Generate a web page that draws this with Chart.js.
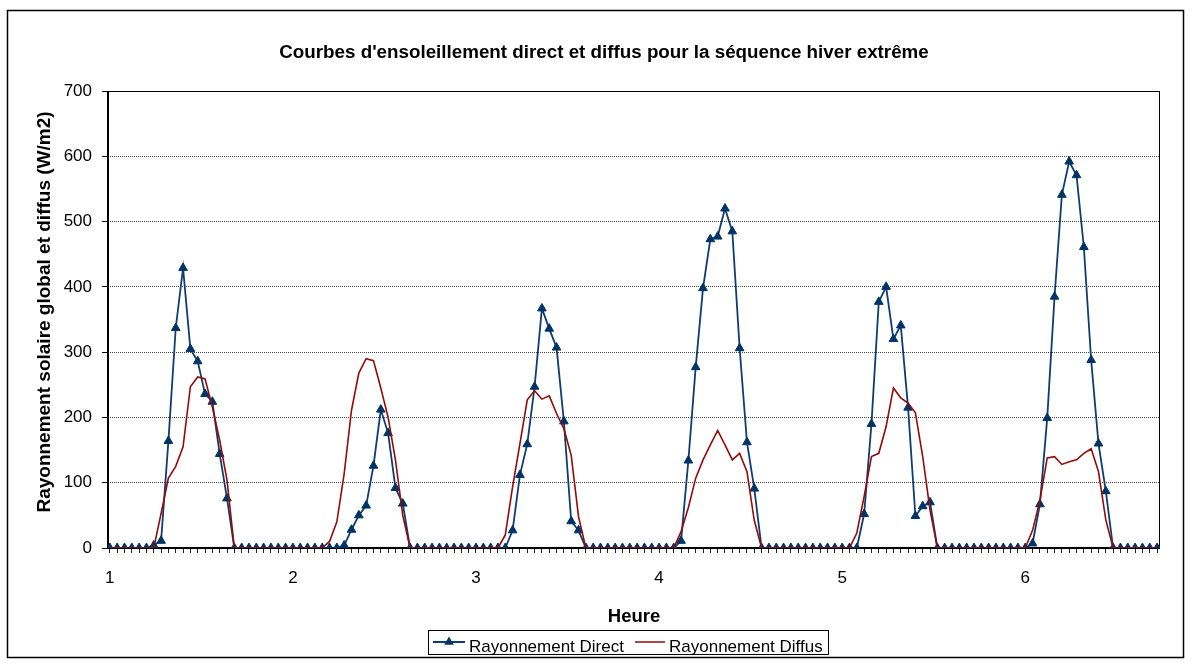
<!DOCTYPE html>
<html>
<head>
<meta charset="utf-8">
<script src="https://cdn.jsdelivr.net/npm/chart.js@4.4.0/dist/chart.umd.min.js"></script>
<style>
  html, body { margin: 0; padding: 0; background: #fff; }
  canvas { display: block; }
</style>
</head>
<body>
<canvas id="chart" width="1192" height="664"></canvas>
<script>
// day numbers used as category labels (24 hourly values per day)
const days = ['1', '2', '3', '4', '5', '6'];
const hoursPerDay = 24;

// Rayonnement direct (W/m2), one array per day
const directJ1 = [0, 0, 0, 0, 0, 0, 4, 11, 164, 337, 429, 305, 286, 236, 224, 144, 76, 0, 0, 0, 0, 0, 0, 0];
const directJ2 = [0, 0, 0, 0, 0, 0, 0, 0, 4, 28, 50, 65, 126, 212, 176, 92, 68, 0, 0, 0, 0, 0, 0, 0];
const directJ3 = [0, 0, 0, 0, 0, 0, 0, 27, 112, 159, 247, 367, 336, 307, 194, 41, 27, 0, 0, 0, 0, 0, 0, 0];
const directJ4 = [0, 0, 0, 0, 0, 0, 11, 134, 277, 398, 473, 477, 520, 485, 306, 162, 91, 0, 0, 0, 0, 0, 0, 0];
const directJ5 = [0, 0, 0, 0, 0, 0, 0, 52, 190, 377, 400, 320, 341, 215, 49, 64, 70, 0, 0, 0, 0, 0, 0, 0];
const directJ6 = [0, 0, 0, 0, 0, 0, 7, 67, 199, 385, 541, 592, 571, 461, 288, 160, 87, 0, 0, 0, 0, 0, 0, 0];

// Rayonnement diffus (W/m2)
const diffusJ1 = [0, 0, 0, 0, 0, 0, 0, 53, 107, 125, 155, 247, 262, 259, 216, 165, 104, 0, 0, 0, 0, 0, 0, 0];
const diffusJ2 = [0, 0, 0, 0, 0, 0, 10, 40, 114, 211, 268, 290, 287, 245, 200, 135, 50, 0, 0, 0, 0, 0, 0, 0];
const diffusJ3 = [0, 0, 0, 0, 0, 0, 20, 94, 160, 227, 241, 228, 233, 206, 183, 142, 48, 0, 0, 0, 0, 0, 0, 0];
const diffusJ4 = [0, 0, 0, 0, 0, 0, 25, 62, 107, 135, 158, 180, 158, 135, 145, 117, 42, 0, 0, 0, 0, 0, 0, 0];
const diffusJ5 = [0, 0, 0, 0, 0, 0, 23, 79, 140, 145, 186, 245, 230, 222, 207, 140, 58, 0, 0, 0, 0, 0, 0, 0];
const diffusJ6 = [0, 0, 0, 0, 0, 0, 27, 73, 138, 140, 128, 132, 135, 145, 152, 117, 43, 0, 0, 0, 0, 0, 0, 0];

const yTicks = [0, 100, 200, 300, 400, 500, 600, 700];
const labelEvery = 25; // Excel shows one category label out of 25

const title = "Courbes d'ensoleillement direct et diffus pour la séquence hiver extrême";
const yTitle = 'Rayonnement solaire global et diffus (W/m2)';
const xTitle = 'Heure';
const seriesNames = ['Rayonnement Direct', 'Rayonnement Diffus'];

const FONT = "'Liberation Sans', Arial, sans-serif";
const BLUE = '#0E3D73';
const BLUE_MARK = '#003366';
const RED = '#960A0A';

const categories = days.flatMap(d => Array(hoursPerDay).fill(d));
const direct = [].concat(directJ1, directJ2, directJ3, directJ4, directJ5, directJ6);
const diffus = [].concat(diffusJ1, diffusJ2, diffusJ3, diffusJ4, diffusJ5, diffusJ6);
const toPoints = arr => arr.map((v, i) => ({ x: i, y: v }));

function drawTriangle(ctx, x, y, r) {
  ctx.beginPath();
  ctx.moveTo(x, y - r);
  ctx.lineTo(x + r * 0.866, y + r * 0.5);
  ctx.lineTo(x - r * 0.866, y + r * 0.5);
  ctx.closePath();
  ctx.fill();
}

const decor = {
  id: 'decor',
  beforeDatasetsDraw(chart) {
    const { ctx, chartArea: a } = chart;
    ctx.save();
    ctx.fillStyle = '#000';
    ctx.fillRect(a.left, a.top, a.right - a.left, 1);          // top
    ctx.fillRect(a.right - 1, a.top, 1, a.bottom - a.top);      // right
    ctx.fillRect(a.left - 1, a.top, 2, a.bottom - a.top + 1);   // left
    ctx.fillRect(a.left - 1, a.bottom - 1, a.right - a.left + 1, 2); // bottom
    ctx.restore();
  },
  afterDraw(chart) {
    const { ctx } = chart;
    ctx.save();
    // outer frame
    ctx.strokeStyle = '#000';
    ctx.lineWidth = 1.5;
    ctx.strokeRect(7.5, 10.5, 1176, 647);

    ctx.fillStyle = '#000';
    ctx.textBaseline = 'alphabetic';
    ctx.textAlign = 'center';
    ctx.font = `bold 18.8px ${FONT}`;
    ctx.fillText(title, 604, 58);

    ctx.font = `bold 18.5px ${FONT}`;
    ctx.fillText(xTitle, 634, 622);

    ctx.save();
    ctx.translate(50, 312);
    ctx.rotate(-Math.PI / 2);
    ctx.font = `bold 19px ${FONT}`;
    ctx.fillText(yTitle, 0, 0);
    ctx.restore();

    // legend
    ctx.lineWidth = 1;
    ctx.strokeRect(428.5, 630.5, 400, 24);
    ctx.strokeStyle = BLUE;
    ctx.lineWidth = 2;
    ctx.beginPath(); ctx.moveTo(433, 642); ctx.lineTo(465, 642); ctx.stroke();
    ctx.fillStyle = BLUE_MARK;
    drawTriangle(ctx, 449, 642, 5.5);
    ctx.strokeStyle = RED;
    ctx.lineWidth = 1.5;
    ctx.beginPath(); ctx.moveTo(635, 642); ctx.lineTo(665, 642); ctx.stroke();
    ctx.fillStyle = '#000';
    ctx.textAlign = 'left';
    ctx.font = `17px ${FONT}`;
    ctx.fillText(seriesNames[0], 469, 652);
    ctx.fillText(seriesNames[1], 669, 652);
    ctx.restore();
  }
};

new Chart(document.getElementById('chart'), {
  type: 'line',
  data: {
    datasets: [
      {
        label: seriesNames[0],
        data: toPoints(direct),
        borderColor: BLUE,
        borderWidth: 1.8,
        pointStyle: 'triangle',
        pointRadius: 5,
        pointBorderWidth: 1,
        pointBackgroundColor: BLUE_MARK,
        pointBorderColor: BLUE_MARK,
        tension: 0,
        order: 1
      },
      {
        label: seriesNames[1],
        data: toPoints(diffus),
        borderColor: RED,
        borderWidth: 1.6,
        pointRadius: 0,
        tension: 0,
        order: 0
      }
    ]
  },
  options: {
    responsive: false,
    animation: false,
    events: [],
    layout: { padding: { top: 91, right: 32, left: 0, bottom: 0 } },
    plugins: {
      legend: { display: false },
      title: { display: false },
      tooltip: { enabled: false }
    },
    scales: {
      x: {
        type: 'linear',
        min: -0.25,
        max: 143.4,
        afterFit: s => { s.height = 116; },
        afterBuildTicks: s => { s.ticks = categories.map((c, i) => ({ value: i })); },
        border: { display: false },
        grid: {
          drawOnChartArea: false,
          drawTicks: true,
          tickLength: 5,
          tickColor: '#222'
        },
        ticks: {
          autoSkip: false,
          maxRotation: 0,
          minRotation: 0,
          padding: 15,
          color: '#000',
          font: { family: FONT, size: 17 },
          callback: v => (v % labelEvery === 0 ? categories[v] : '')
        }
      },
      y: {
        min: 0,
        max: 700,
        afterFit: s => { s.width = 108; },
        afterBuildTicks: s => { s.ticks = yTicks.map(v => ({ value: v })); },
        border: { display: false, dash: [1, 1] },
        grid: {
          color: '#444',
          lineWidth: 1,
          tickColor: '#000',
          tickLength: 6,
          tickBorderDash: []
        },
        ticks: {
          padding: 10,
          color: '#000',
          font: { family: FONT, size: 17 }
        }
      }
    }
  },
  plugins: [decor]
});
</script>
</body>
</html>
